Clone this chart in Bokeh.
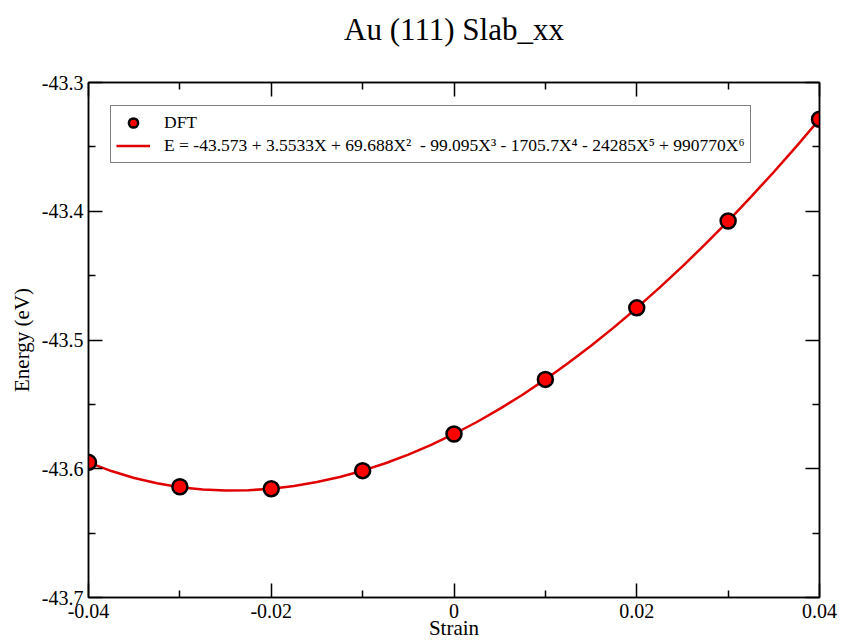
from bokeh.plotting import figure
from bokeh.models import Range1d, FixedTicker, LinearAxis, Legend, LegendItem, Title
from bokeh.embed import file_html
from bokeh.resources import INLINE

# DFT data points
strain = [-0.04, -0.03, -0.02, -0.01, 0.0, 0.01, 0.02, 0.03, 0.04]
energy = [-43.595, -43.614, -43.6155, -43.6015, -43.573, -43.5306, -43.475, -43.4076, -43.3285]

# fitted curve
fit_x = [-0.04, -0.0375, -0.035, -0.0325, -0.03, -0.0275, -0.025, -0.0225,
         -0.02, -0.0175, -0.015, -0.0125, -0.01, -0.0075, -0.005, -0.0025,
         0.0, 0.0025, 0.005, 0.0075, 0.01, 0.0125, 0.015, 0.0175,
         0.02, 0.0225, 0.025, 0.0275, 0.03, 0.0325, 0.035, 0.0375, 0.04]
fit_y = [-43.5951, -43.6018, -43.6072, -43.6113, -43.6143, -43.6161, -43.6169, -43.6167,
         -43.6155, -43.6134, -43.6103, -43.6064, -43.6015, -43.5957, -43.5890, -43.5814,
         -43.5730, -43.5637, -43.5535, -43.5425, -43.5306, -43.5179, -43.5044, -43.4902,
         -43.4751, -43.4593, -43.4428, -43.4256, -43.4076, -43.3889, -43.3695, -43.3494, -43.3285]

x_ticks = [-0.04, -0.02, 0.0, 0.02, 0.04]
x_tick_labels = ["-0.04", "-0.02", "0", "0.02", "0.04"]
x_minor = [-0.03, -0.01, 0.01, 0.03]
y_ticks = [-43.7, -43.6, -43.5, -43.4, -43.3]
y_tick_labels = ["-43.7", "-43.6", "-43.5", "-43.4", "-43.3"]
y_minor = [-43.65, -43.55, -43.45, -43.35]

title_text = "Au (111) Slab_xx"
x_label = "Strain"
y_label = "Energy (eV)"
legend_dft = "DFT"
legend_fit = "E = -43.573 + 3.5533X + 69.688X\u00b2  - 99.095X\u00b3 - 1705.7X\u2074 - 24285X\u2075 + 990770X\u2076"

FONT = "Liberation Serif"

p = figure(width=842, height=644, output_backend="svg", toolbar_location=None,
           x_range=Range1d(-0.04, 0.04), y_range=Range1d(-43.7, -43.3),
           min_border_left=88, min_border_right=23, min_border_top=82, min_border_bottom=47)
p.background_fill_color = "white"
p.border_fill_color = "white"
p.grid.visible = False
p.outline_line_color = "black"
p.outline_line_width = 1.5

p.title.text = title_text
p.title.align = "center"
p.title.text_font = FONT
p.title.text_font_size = "31px"
p.title.text_font_style = "normal"
p.title.text_color = "black"
p.title.offset = 0
p.title.standoff = 18

def style_axis(ax, ticks, minor, overrides, show_labels):
    ax.ticker = FixedTicker(ticks=ticks, minor_ticks=minor)
    ax.major_tick_in = 14
    ax.major_tick_out = 0
    ax.minor_tick_in = 7
    ax.minor_tick_out = 0
    ax.major_tick_line_width = 1.5
    ax.minor_tick_line_width = 1.5
    ax.axis_line_width = 1.5
    ax.axis_line_color = "black"
    ax.major_tick_line_color = "black"
    ax.minor_tick_line_color = "black"
    ax.major_label_text_font = FONT
    ax.major_label_text_font_size = "20px"
    ax.major_label_text_color = "black" if show_labels else None
    ax.major_label_overrides = overrides
    ax.axis_label_text_font = FONT
    ax.axis_label_text_font_size = "21px"
    ax.axis_label_text_font_style = "normal"
    ax.axis_label_text_color = "black"

x_over = {t: l for t, l in zip(x_ticks, x_tick_labels)}
y_over = {t: l for t, l in zip(y_ticks, y_tick_labels)}

style_axis(p.xaxis[0], x_ticks, x_minor, x_over, True)
style_axis(p.yaxis[0], y_ticks, y_minor, y_over, True)
p.xaxis[0].axis_label = x_label
p.yaxis[0].axis_label = y_label
p.xaxis[0].major_label_standoff = 6
p.xaxis[0].axis_label_standoff = -5
p.yaxis[0].major_label_standoff = 5
p.yaxis[0].axis_label_standoff = 5

top_ax = LinearAxis()
style_axis(top_ax, x_ticks, x_minor, x_over, False)
top_ax.major_label_text_font_size = "0px"
p.add_layout(top_ax, "above")
spacer = Title(text=" ", text_font_size="2px", standoff=23)
p.add_layout(spacer, "above")
right_ax = LinearAxis()
style_axis(right_ax, y_ticks, y_minor, y_over, False)
right_ax.major_label_text_font_size = "0px"
p.add_layout(right_ax, "right")

line_r = p.line(fit_x, fit_y, line_color="#e00000", line_width=2.5)
pts_r = p.scatter(strain, energy, size=15, fill_color="red", line_color="black", line_width=2.5)

legend = Legend(items=[LegendItem(label=legend_dft, renderers=[pts_r]),
                       LegendItem(label=legend_fit, renderers=[line_r])],
                location=(22, 434))
legend.label_text_font = FONT
legend.label_text_font_size = "17.5px"
legend.label_text_color = "black"
legend.label_height = 23
legend.glyph_height = 23
legend.glyph_width = 34
legend.label_standoff = 14
legend.spacing = 0
legend.padding = 5
legend.margin = 0
legend.border_line_color = "black"
legend.border_line_width = 1.5
legend.background_fill_color = "white"
legend.background_fill_alpha = 1.0
p.add_layout(legend, "center")

open("out.html", "w").write(file_html(p, INLINE))
